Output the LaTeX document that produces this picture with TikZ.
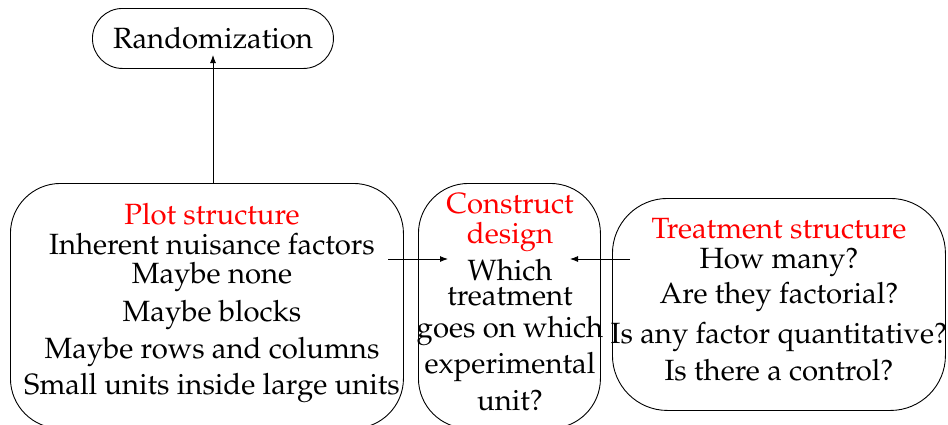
\documentclass[tikz,border=0pt]{standalone}
\usepackage[T1]{fontenc}
\usepackage{mathpazo}
\usetikzlibrary{arrows.meta}
\tikzset{
  boxshape/.style={draw, line width=0.9pt, rounded corners=#1, anchor=north west, inner sep=0pt},
  txt/.style={anchor=base, inner sep=0pt, font=\fontsize{29.3}{34}\selectfont},
  title/.style={txt, text=red},
  conn/.style={line width=0.9pt, -{Latex[length=8pt,width=6pt]}}
}
\begin{document}
\begin{tikzpicture}[x=1pt,y=-1pt]
\useasboundingbox (0,0) rectangle (948,424);
% boxes
\node[boxshape=30, minimum width=241, minimum height=60] (randbox) at (92,8) {};
\node[boxshape=50, minimum width=393, minimum height=245] (plotbox) at (10,183) {};
\node[boxshape=50, minimum width=182, minimum height=245] (consbox) at (418,183) {};
\node[boxshape=55, minimum width=333, minimum height=212] (treatbox) at (612,198) {};
% Randomization
\node[txt] (rand) at (213,48) {Randomization};
% plot structure
\node[title] (pt) at (212,224) {Plot structure};
\node[txt] (p1) at (212,254) {Inherent nuisance factors};
\node[txt] (p2) at (212,283) {Maybe none};
\node[txt] (p3) at (212,321) {Maybe blocks};
\node[txt] (p4) at (212,358) {Maybe rows and columns};
\node[txt] (p5) at (212,394) {Small units inside large units};
% construct design
\node[title] (ct1) at (510,213) {Construct};
\node[title] (ct2) at (510,243) {design};
\node[txt] (c1) at (510,280) {Which};
\node[txt] (c2) at (510,305) {treatment};
\node[txt] (c3) at (510,337) {goes on which};
\node[txt] (c4) at (510,373) {experimental};
\node[txt] (c5) at (510,410) {unit?};
% treatment structure
\node[title] (tt) at (779,238) {Treatment structure};
\node[txt] (t1) at (779,268) {How many?};
\node[txt] (t2) at (779,303) {Are they factorial?};
\node[txt] (t3) at (779,343) {Is any factor quantitative?};
\node[txt] (t4) at (779,380) {Is there a control?};
% connectors
\coordinate (plottop) at (213,183);
\coordinate (randin) at (213,55);
\coordinate (plotout) at (388,259);
\coordinate (consinL) at (448,259);
\coordinate (treatout) at (630,259);
\coordinate (consinR) at (570,259);
\draw[conn] (plottop) -- (randin);
\draw[conn] (plotout) -- (consinL);
\draw[conn] (treatout) -- (consinR);
\end{tikzpicture}
\end{document}
